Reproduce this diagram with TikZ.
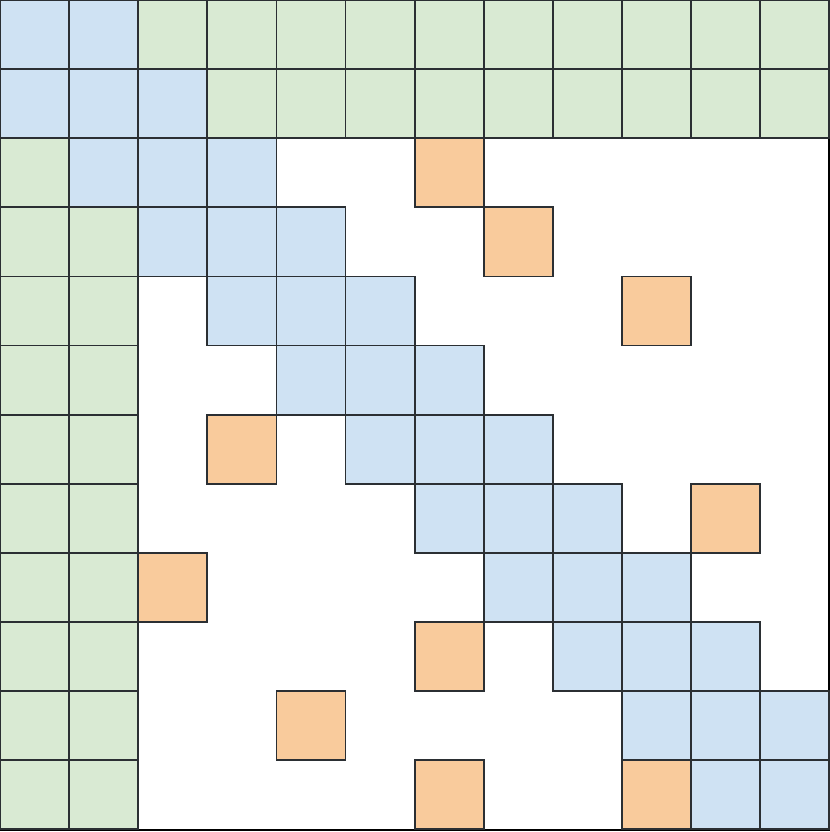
\documentclass[tikz,border=0pt]{standalone}
\definecolor{cblue}{HTML}{CFE2F3}
\definecolor{cgreen}{HTML}{D9EAD3}
\definecolor{corange}{HTML}{F9CB9C}
\definecolor{cline}{HTML}{2B2F33}
\tikzset{
  cell/.style={draw=cline, line width=0.9pt},
  bcell/.style={cell, fill=cblue},
  gcell/.style={cell, fill=cgreen},
  ocell/.style={cell, fill=corange},
}
\newcommand{\mycell}[3]{\path[#1] (#2*69.1,#3*69.1) rectangle ++(69.1,69.1);}
\begin{document}
\begin{tikzpicture}[x=0.5pt,y=-0.5pt]
\useasboundingbox (0,0) rectangle (830,832);
\draw[black, line width=1.4pt, fill=white] (0,0) rectangle (829.2,830);
% row 0
\foreach \c in {0,1} {\mycell{bcell}{\c}{0}}
\foreach \c in {2,...,11} {\mycell{gcell}{\c}{0}}
% row 1
\foreach \c in {0,1,2} {\mycell{bcell}{\c}{1}}
\foreach \c in {3,...,11} {\mycell{gcell}{\c}{1}}
% row 2
\mycell{gcell}{0}{2}
\foreach \c in {1,2,3} {\mycell{bcell}{\c}{2}}
% green left columns rows 3-11
\foreach \r in {3,...,11} {\mycell{gcell}{0}{\r}\mycell{gcell}{1}{\r}}
% diagonal band rows 3-11
\foreach \r in {3,...,11} {
  \pgfmathtruncatemacro{\a}{\r-1}
  \pgfmathtruncatemacro{\b}{min(\r+1,11)}
  \foreach \c in {\a,...,\b} {\mycell{bcell}{\c}{\r}}
}
% orange cells
\foreach \c/\r in {6/2,7/3,9/4,3/6,10/7,2/8,6/9,4/10,6/11,9/11} {\mycell{ocell}{\c}{\r}}
\end{tikzpicture}
\end{document}
